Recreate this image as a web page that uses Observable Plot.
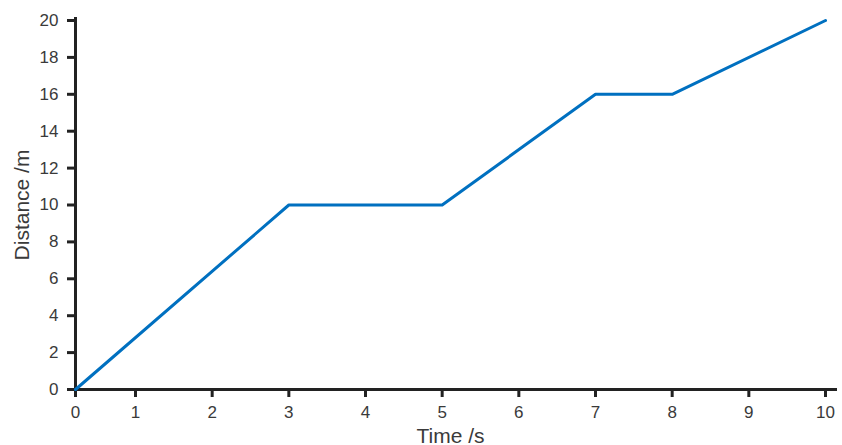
<!DOCTYPE html>
<html><head><meta charset="utf-8">
<script src="https://cdn.jsdelivr.net/npm/d3@7"></script>
<script src="https://cdn.jsdelivr.net/npm/@observablehq/plot@0.6"></script>
<style>body{margin:0;background:#fff;} svg{display:block;}</style>
</head><body><div id="chart"></div>
<script>
const times = [0, 3, 5, 7, 8, 10];
const distances = [0, 10, 10, 16, 16, 20];
const xTicks = [0,1,2,3,4,5,6,7,8,9,10];
const yTicks = [0,2,4,6,8,10,12,14,16,18,20];
const data = times.map((t,i)=>({t, d: distances[i]}));
const chart = Plot.plot({
  width: 842, height: 445,
  marginLeft: 75, marginRight: 17, marginTop: 20, marginBottom: 56,
  style: {fontFamily: "'Liberation Sans', Arial, sans-serif", fontSize: "17px", color: "#3a3a3a", background: "#fff"},
  x: {type: "linear", domain: [0, 1, 10], range: [75, 135, 825]},
  y: {domain: [0,20]},
  marks: [
    Plot.axisX({ticks: xTicks, label: null, tickSize: 8, tickPadding: 8, strokeWidth: 3, stroke: "#222", fontSize: 17}),
    Plot.axisX({ticks: [], label: "Time /s", labelAnchor: "center", labelArrow: "none", labelOffset: 53, fontSize: 21}),
    Plot.axisY({ticks: yTicks, label: null, tickSize: 8, tickPadding: 9, strokeWidth: 3, stroke: "#222", fontSize: 17}),
    Plot.axisY({ticks: [], label: "Distance /m", labelAnchor: "center", labelArrow: "none", labelOffset: 61, fontSize: 21}),
    Plot.ruleY([0], {stroke: "#222", strokeWidth: 3, insetRight: -12}),
    Plot.ruleX([0], {stroke: "#222", strokeWidth: 3, insetTop: -3}),
    Plot.line(data, {x: "t", y: "d", stroke: "#0070c0", strokeWidth: 3})
  ]
});
document.getElementById("chart").append(chart);
</script></body></html>
